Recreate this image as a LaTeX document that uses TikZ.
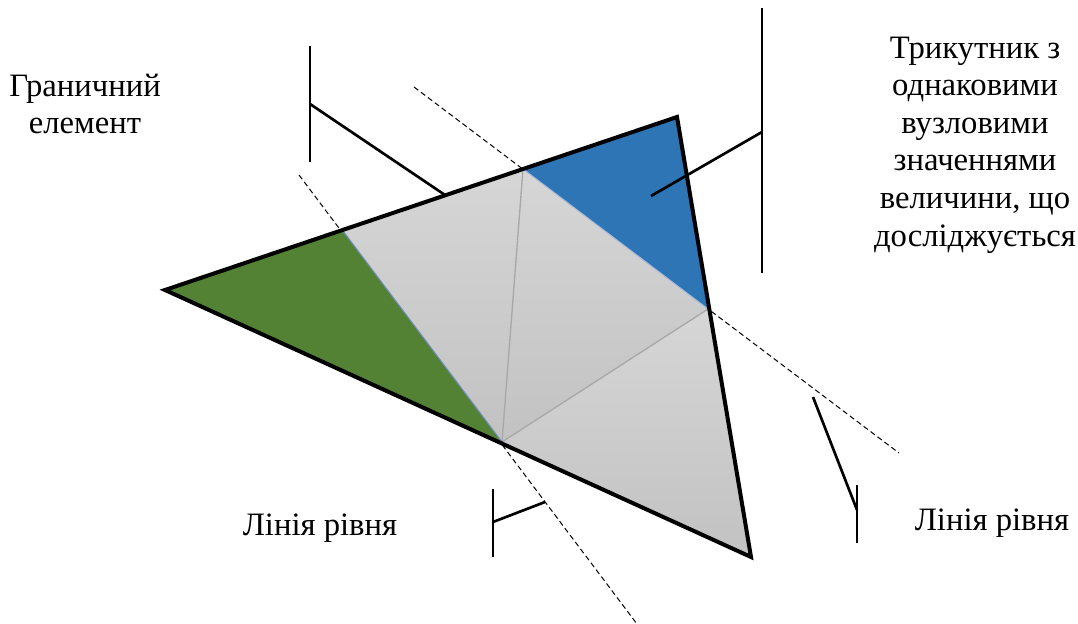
\documentclass[tikz,border=0pt]{standalone}
\usepackage{fontspec}
\setmainfont{Liberation Serif}
\usepackage{tikz}
\usepackage{xcolor}
\definecolor{meshgreen}{RGB}{84, 130, 53}
\definecolor{meshblue}{RGB}{46, 117, 182}
\definecolor{meshgraytop}{RGB}{214, 214, 214}
\definecolor{meshgraybot}{RGB}{194, 194, 194}
\definecolor{meshedge}{RGB}{168, 168, 168}
\definecolor{meshtint}{RGB}{110, 140, 190}
\usetikzlibrary{calc,positioning}

\begin{document}
\begin{tikzpicture}[x=0.75pt, y=-0.75pt,
    edgeline/.style={line width=3pt, line join=miter},
    leader/.style={line width=2pt},
    levelline/.style={line width=0.75pt, dash pattern=on 4pt off 2.5pt},
    meshline/.style={meshedge, line width=1pt},
    graytri/.style={top color=meshgraytop, bottom color=meshgraybot},
    txt/.style={font=\fontsize{24.5}{28.2}\selectfont, align=center, inner sep=0pt}]
    \useasboundingbox (0, 0) rectangle (1078, 624);

    % Mesh nodes
    \coordinate (L) at (165, 290);
    \coordinate (T) at (677, 117);
    \coordinate (B) at (751, 557);
    \coordinate (G) at (343, 231);
    \coordinate (U) at (523, 169);
    \coordinate (R) at (708, 309);
    \coordinate (P) at (502, 442);

    % Level lines
    \coordinate (d1a) at (299, 175);
    \coordinate (d1b) at (637, 624);
    \coordinate (d2a) at (414, 87);
    \coordinate (d2b) at (899, 453);
    \draw[levelline] (d1a) -- (d1b);
    \draw[levelline] (d2a) -- (d2b);

    % Elements
    \shade[graytri] (G) -- (U) -- (P) -- cycle;
    \shade[graytri] (U) -- (R) -- (P) -- cycle;
    \shade[graytri] (R) -- (B) -- (P) -- cycle;
    \fill[meshgreen] (L) -- (G) -- (P) -- cycle;
    \fill[meshblue] (U) -- (T) -- (R) -- cycle;
    \draw[meshline] (U) -- (P);
    \draw[meshline] (R) -- (P);
    \draw[meshtint, line width=0.8pt] (G) -- (P);
    \draw[meshtint!60!white, line width=0.8pt] (U) -- (R);

    % Boundary of the region
    \draw[edgeline] (L) -- (T) -- (B) -- cycle;

    % Leaders
    \coordinate (b1top) at (310, 46);
    \coordinate (b1bot) at (310, 162);
    \coordinate (b1mid) at (310, 104);
    \coordinate (b1end) at (445, 195);
    \draw[leader] (b1top) -- (b1bot);
    \draw[leader] (b1mid) -- (b1end);

    \coordinate (b2top) at (762, 8);
    \coordinate (b2bot) at (762, 273);
    \coordinate (b2mid) at (762, 132);
    \coordinate (b2end) at (651, 196);
    \draw[leader] (b2top) -- (b2bot);
    \draw[leader] (b2mid) -- (b2end);

    \coordinate (b3top) at (493, 489);
    \coordinate (b3bot) at (493, 557);
    \coordinate (b3mid) at (493, 522);
    \coordinate (b3end) at (545, 502);
    \draw[leader] (b3top) -- (b3bot);
    \draw[leader] (b3mid) -- (b3end);

    \coordinate (b4top) at (857, 485);
    \coordinate (b4bot) at (857, 543);
    \coordinate (b4mid) at (857, 510);
    \coordinate (b4end) at (813, 397);
    \draw[leader] (b4top) -- (b4bot);
    \draw[leader] (b4mid) -- (b4end);

    % Labels
    \node[txt] (boundary) at (85, 104) {Граничний\\елемент};
    \node[txt] (equal) at (975, 145) {Трикутник з\\однаковими\\вузловими\\значеннями\\величини, що\\досліджується};
    \node[txt, anchor=base] (levelleft) at (320, 535) {Лінія рівня};
    \node[txt, anchor=base] (levelright) at (992, 530) {Лінія рівня};
\end{tikzpicture}
\end{document}
